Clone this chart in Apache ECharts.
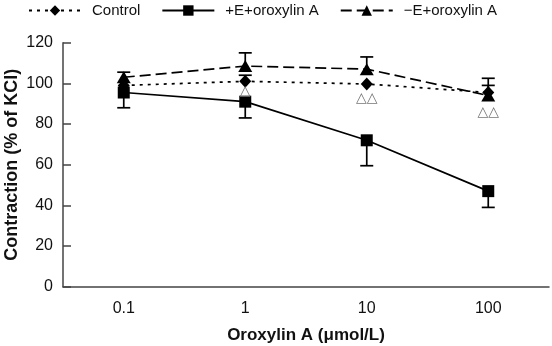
<!DOCTYPE html>
<html>
<head>
<meta charset="utf-8">
<script src="https://cdn.jsdelivr.net/npm/echarts@6/dist/echarts.min.js"></script>
<style>
html,body{margin:0;padding:0;background:#fff;}
#chart{width:552px;height:346px;}
</style>
</head>
<body>
<div id="chart"></div>
<script>
const categories = ['0.1', '1', '10', '100'];
const controlValues = [99, 101, 99.7, 95.5];
const controlErrUp = [0, 3, 0, 3.5];
const plusEValues = [95.5, 91, 72, 47];
const plusEErrDown = [7.5, 8, 12.5, 8];
const minusEValues = [103, 108.5, 107, 94];
const minusEErrUp = [2.5, 6.5, 6, 8.5];
const sigLabels = ['', '△', '△△', '△△'];
const sigValues = [0, 96, 92.5, 85.5];
const yTicks = [0, 20, 40, 60, 80, 100, 120];

const FONT = 'Liberation Sans, Arial, sans-serif';
const AXIS_COLOR = '#444';

function errSeries(values, errs, dir) {
  return {
    type: 'custom',
    silent: true,
    z: 1,
    data: values.map((v, i) => [i, v, errs[i]]),
    renderItem: function (params, api) {
      const e = api.value(2);
      if (!e) return null;
      const p0 = api.coord([api.value(0), api.value(1)]);
      const p1 = api.coord([api.value(0), api.value(1) + dir * e]);
      const st = { stroke: '#000', lineWidth: 1.7 };
      return {
        type: 'group',
        children: [
          { type: 'line', shape: { x1: p0[0], y1: p0[1], x2: p1[0], y2: p1[1] }, style: st },
          { type: 'line', shape: { x1: p1[0] - 6.5, y1: p1[1], x2: p1[0] + 6.5, y2: p1[1] }, style: st }
        ]
      };
    }
  };
}

const chart = echarts.init(document.getElementById('chart'), null, { renderer: 'canvas' });
chart.setOption({
  animation: false,
  backgroundColor: '#fff',
  textStyle: { fontFamily: FONT },
  legend: {
    data: ['Control', '+E+oroxylin A', '−E+oroxylin A'],
    left: 28,
    top: 3,
    padding: 0,
    itemWidth: 52,
    itemHeight: 13,
    itemGap: 21,
    textStyle: { fontFamily: FONT, fontSize: 15, color: '#111', padding: [0, 0, 0, 6] }
  },
  grid: { left: 63, right: 3, top: 42.7, bottom: 59.3, containLabel: false, outerBoundsMode: 'none' },
  xAxis: {
    type: 'category',
    data: categories,
    boundaryGap: true,
    name: 'Oroxylin A (μmol/L)',
    nameLocation: 'middle',
    nameGap: 40,
    nameMoveOverlap: false,
    nameTextStyle: { fontFamily: FONT, fontSize: 17, fontWeight: 'bold', color: '#111' },
    axisLine: { lineStyle: { color: AXIS_COLOR, width: 1.5 } },
    axisTick: { inside: true, length: 8, lineStyle: { color: AXIS_COLOR, width: 1.5 } },
    axisLabel: { fontFamily: FONT, fontSize: 16, color: '#111', margin: 14 },
    splitLine: { show: false }
  },
  yAxis: {
    type: 'value',
    min: yTicks[0],
    max: yTicks[yTicks.length - 1],
    interval: 20,
    name: 'Contraction (% of KCl)',
    nameLocation: 'middle',
    nameRotate: 90,
    nameGap: 42,
    nameMoveOverlap: false,
    nameTextStyle: { fontFamily: FONT, fontSize: 18, fontWeight: 'bold', color: '#111' },
    axisLine: { show: true, lineStyle: { color: AXIS_COLOR, width: 1.5 } },
    axisTick: { show: true, inside: true, length: 8, lineStyle: { color: AXIS_COLOR, width: 1.5 } },
    axisLabel: { fontFamily: FONT, fontSize: 16, color: '#111', margin: 10 },
    splitLine: { show: false }
  },
  series: [
    errSeries(controlValues, controlErrUp, 1),
    errSeries(plusEValues, plusEErrDown, -1),
    errSeries(minusEValues, minusEErrUp, 1),
    {
      name: 'Control',
      type: 'line',
      z: 3,
      data: controlValues,
      symbol: 'diamond',
      symbolSize: [12, 13],
      itemStyle: { color: '#000' },
      lineStyle: { color: '#000', width: 1.7, type: [3, 5] }
    },
    {
      name: '+E+oroxylin A',
      type: 'line',
      z: 3,
      data: plusEValues,
      symbol: 'rect',
      symbolSize: 12,
      itemStyle: { color: '#000' },
      lineStyle: { color: '#000', width: 1.7, type: 'solid' }
    },
    {
      name: '−E+oroxylin A',
      type: 'line',
      z: 4,
      data: minusEValues,
      symbol: 'triangle',
      symbolSize: [14, 12],
      itemStyle: { color: '#000' },
      lineStyle: { color: '#000', width: 1.7, type: [11, 5] }
    },
    {
      type: 'custom',
      silent: true,
      z: 5,
      data: sigValues.map((v, i) => [i, v, sigLabels[i]]),
      renderItem: function (params, api) {
        const t = sigLabels[params.dataIndex];
        if (!t) return null;
        const p = api.coord([api.value(0), api.value(1)]);
        return {
          type: 'text',
          x: p[0],
          y: p[1],
          style: { text: t, fill: '#777', font: '14px DejaVu Sans', align: 'center', verticalAlign: 'middle' }
        };
      }
    }
  ]
});
</script>
</body>
</html>
